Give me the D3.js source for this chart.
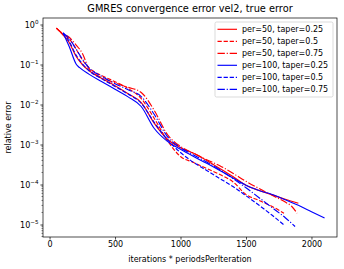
<!DOCTYPE html>
<html><head><meta charset="utf-8">
<script src="https://cdn.jsdelivr.net/npm/d3@7"></script>
<style>body{margin:0;background:#fff}svg{display:block}text{font-family:"DejaVu Sans",sans-serif}</style>
</head><body>
<svg id="c" width="344" height="269"></svg>
<script>
const title = "GMRES convergence error vel2, true error";
const xLabel = "iterations * periodsPerIteration";
const yLabel = "relative error";
const xTicks = [0, 500, 1000, 1500, 2000];
const yTicks = [1, 1e-1, 1e-2, 1e-3, 1e-4, 1e-5];
const yTickExp = ["0", "−1", "−2", "−3", "−4", "−5"];
const seriesNames = ["per=50, taper=0.25","per=50, taper=0.5","per=50, taper=0.75","per=100, taper=0.25","per=100, taper=0.5","per=100, taper=0.75"];
const seriesColors = ["#ff0000","#ff0000","#ff0000","#0000ff","#0000ff","#0000ff"];
const seriesDash = ["solid","dashed","dashdot","solid","dashed","dashdot"];

const r50t025_x = [52,100,150,200,250,300,400,500,600,700,800,900,1000,1100,1200,1300,1400,1500,1600,1700,1800,1900];
const r50t025_y = [0.813,0.562,0.355,0.166,0.100,0.0708,0.0447,0.0295,0.0186,0.0112,0.00339,0.00135,0.000832,0.000603,0.000398,0.000251,0.000158,9.55e-5,7.08e-5,5.50e-5,4.27e-5,3.39e-5];
const r50t05_x = [52,100,150,200,250,300,350,400,500,600,700,800,900,1000,1100,1200,1300,1400,1500,1600,1700,1790];
const r50t05_y = [0.813,0.575,0.437,0.251,0.132,0.0832,0.0631,0.0525,0.0372,0.0251,0.0141,0.00447,0.00126,0.000501,0.000355,0.000251,0.000178,0.000117,5.62e-5,3.98e-5,2.82e-5,1.91e-5];
const r50t075_x = [52,100,150,200,250,300,350,400,500,600,700,800,900,1000,1100,1200,1300,1400,1500,1600,1700,1800,1850,1890];
const r50t075_y = [0.813,0.603,0.479,0.316,0.191,0.0794,0.0562,0.0468,0.0347,0.0269,0.0200,0.00708,0.00178,0.000891,0.000603,0.000417,0.000295,0.000191,0.000120,7.94e-5,5.37e-5,3.63e-5,2.82e-5,1.91e-5];
const b100t025_x = [103,150,205,230,300,400,500,600,700,800,900,1000,1100,1200,1300,1400,1500,1600,1700,1800,1900,2000,2100];
const b100t025_y = [0.617,0.282,0.100,0.0832,0.0575,0.0372,0.0240,0.0155,0.00891,0.00251,0.00120,0.000759,0.000501,0.000339,0.000224,0.000145,9.55e-5,7.08e-5,5.62e-5,4.17e-5,3.02e-5,2.09e-5,1.45e-5];
const b100t05_x = [103,150,200,250,300,400,500,600,700,800,900,1000,1100,1200,1300,1400,1500,1600,1700,1790];
const b100t05_y = [0.617,0.380,0.178,0.105,0.0708,0.0437,0.0282,0.0182,0.0107,0.00355,0.00132,0.000631,0.000355,0.000224,0.000141,8.91e-5,5.25e-5,3.02e-5,1.70e-5,9.77e-6];
const b100t075_x = [103,150,200,250,300,400,500,600,700,800,900,1000,1100,1200,1300,1400,1500,1600,1700,1800,1875];
const b100t075_y = [0.617,0.447,0.251,0.138,0.0832,0.0501,0.0331,0.0234,0.0158,0.00562,0.00158,0.000832,0.000550,0.000363,0.000234,0.000141,8.32e-5,4.68e-5,2.63e-5,1.48e-5,8.91e-6];

const seriesX = [r50t025_x, r50t05_x, r50t075_x, b100t025_x, b100t05_x, b100t075_x];
const seriesY = [r50t025_y, r50t05_y, r50t075_y, b100t025_y, b100t05_y, b100t075_y];

const L = 43, R = 337, T = 18, B = 237;
const svg = d3.select("#c");
const x = d3.scaleLinear().domain([-50, 2195]).range([L, R]);
const y = d3.scaleLog().domain([Math.pow(10,-5.3125), Math.pow(10,0.1625)]).range([B, T]);

const lw = 1.15;
const dashes = {solid: null, dashed: `${3.7*lw},${1.6*lw}`, dashdot: `${6.4*lw},${1.6*lw},${1*lw},${1.6*lw}`};

svg.append("clipPath").attr("id","clp").append("rect").attr("x",L).attr("y",T).attr("width",R-L).attr("height",B-T);
const line = d3.line().x(d=>x(d[0])).y(d=>y(d[1])).curve(d3.curveMonotoneX);
const g = svg.append("g").attr("clip-path","url(#clp)");
seriesX.forEach((xs,i)=>{
  const pts = xs.map((v,j)=>[v, seriesY[i][j]]);
  g.append("path").attr("d", line(pts)).attr("fill","none").attr("stroke",seriesColors[i])
   .attr("stroke-width",lw).attr("stroke-dasharray",dashes[seriesDash[i]]);
});

svg.append("rect").attr("x",L).attr("y",T).attr("width",R-L).attr("height",B-T).attr("fill","none").attr("stroke","#000").attr("stroke-width",0.7);

const xa = svg.append("g").attr("transform",`translate(0,${B})`)
  .call(d3.axisBottom(x).tickValues(xTicks).tickFormat(d3.format("d")).tickSize(2.6).tickSizeOuter(0).tickPadding(2));
xa.select(".domain").remove();
xa.selectAll("line").attr("stroke-width",0.7);
xa.selectAll("text").attr("font-size","8px").attr("fill","#000").attr("font-family","DejaVu Sans");

const ya = svg.append("g").attr("transform",`translate(${L},0)`)
  .call(d3.axisLeft(y).tickValues(yTicks).tickSize(2.6).tickSizeOuter(0).tickFormat(""));
ya.select(".domain").remove();
ya.selectAll("line").attr("stroke-width",0.7);
const minor = [];
for (let e=-6;e<=0;e++) for (let m=2;m<=9;m++){const v=m*Math.pow(10,e); if(v>=y.domain()[0]&&v<=y.domain()[1]) minor.push(v);}
svg.append("g").selectAll("line").data(minor).join("line")
  .attr("x1",L-1.5).attr("x2",L).attr("y1",d=>y(d)).attr("y2",d=>y(d)).attr("stroke","#000").attr("stroke-width",0.5);
yTicks.forEach((v,i)=>{
  const t = svg.append("text").attr("x",L-4.5).attr("y",y(v)+3).attr("text-anchor","end").attr("font-size","8px").attr("fill","#000");
  t.append("tspan").text("10");
  t.append("tspan").attr("dy",-3.5).attr("font-size","5.6px").text(yTickExp[i]);
});

svg.append("text").attr("x",(L+R)/2).attr("y",12).attr("text-anchor","middle").attr("font-size","9.8px").text(title);
svg.append("text").attr("x",(L+R)/2).attr("y",262).attr("text-anchor","middle").attr("font-size","8px").text(xLabel);
svg.append("text").attr("transform",`translate(11,${(T+B)/2}) rotate(-90)`).attr("text-anchor","middle").attr("font-size","8px").text(yLabel);

const lgX = 215, lgY = 22, lgW = 118, lgH = 75;
svg.append("rect").attr("x",lgX).attr("y",lgY).attr("width",lgW).attr("height",lgH).attr("rx",1.5)
  .attr("fill","#fff").attr("fill-opacity",0.8).attr("stroke","#ccc").attr("stroke-width",0.7);
seriesNames.forEach((n,i)=>{
  const yy = lgY + 7.3 + i*12;
  svg.append("line").attr("x1",lgX+2.5).attr("x2",lgX+22).attr("y1",yy).attr("y2",yy)
    .attr("stroke",seriesColors[i]).attr("stroke-width",lw).attr("stroke-dasharray",dashes[seriesDash[i]]);
  svg.append("text").attr("x",lgX+27).attr("y",yy+2.9).attr("font-size","8px").text(n);
});
</script>
</body></html>
